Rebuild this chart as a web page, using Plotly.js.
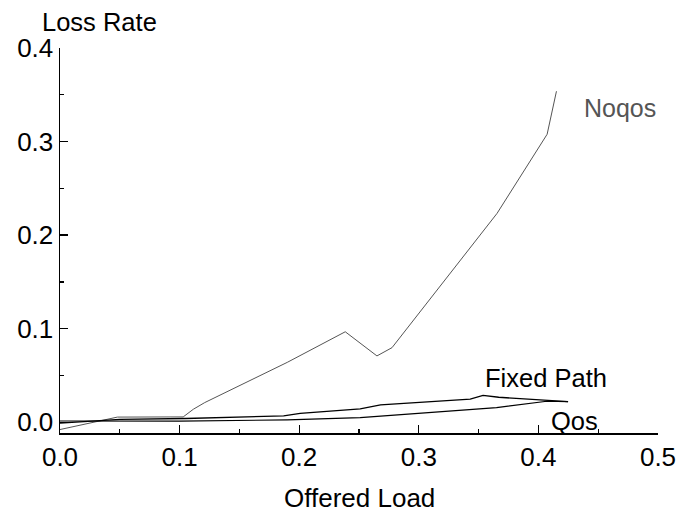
<!DOCTYPE html>
<html>
<head>
<meta charset="utf-8">
<script src="https://cdn.plot.ly/plotly-3.0.1.min.js"></script>
<style>html,body{margin:0;padding:0;background:#fff;}#chart{width:679px;height:515px;}</style>
</head>
<body>
<div id="chart"></div>
<script>
var noqosX = [0.0, 0.048, 0.103, 0.1115, 0.121, 0.19, 0.2385, 0.265, 0.2776, 0.3654, 0.4073, 0.4151];
var noqosY = [-0.0078, 0.0055, 0.0057, 0.0139, 0.021, 0.064, 0.0967, 0.0709, 0.0797, 0.2232, 0.3078, 0.3538];

var fixedX = [0.0, 0.05, 0.105, 0.187, 0.2008, 0.251, 0.268, 0.343, 0.3537, 0.3668, 0.4248];
var fixedY = [-0.0010, 0.0030, 0.0040, 0.0068, 0.0094, 0.0142, 0.0185, 0.0246, 0.0288, 0.0267, 0.0220];

var qosX = [0.0, 0.1, 0.19, 0.234, 0.251, 0.365, 0.407, 0.4248];
var qosY = [0.0014, 0.0012, 0.0025, 0.0038, 0.0049, 0.0156, 0.0225, 0.0220];

var seriesNames = ["Noqos", "Fixed Path", "Qos"];
var xTitle = "Offered Load";
var yTitle = "Loss Rate";

var font = "'Liberation Sans', Arial, Helvetica, sans-serif";

var traces = [
  {x: noqosX, y: noqosY, mode: "lines", name: seriesNames[0], line: {color: "#555555", width: 1}},
  {x: fixedX, y: fixedY, mode: "lines", name: seriesNames[1], line: {color: "#000000", width: 1.3}},
  {x: qosX, y: qosY, mode: "lines", name: seriesNames[2], line: {color: "#000000", width: 1.1}}
];

var layout = {
  width: 679, height: 515,
  margin: {l: 60, r: 21, t: 48, b: 82},
  paper_bgcolor: "#ffffff", plot_bgcolor: "#ffffff",
  showlegend: false,
  font: {family: font, size: 26, color: "#000"},
  xaxis: {
    range: [0, 0.5], dtick: 0.1, tick0: 0, tickformat: ".1f",
    showgrid: false, zeroline: false, showline: true, linecolor: "#000", linewidth: 1.5,
    ticks: "inside", ticklen: 8, tickwidth: 1.3, tickcolor: "#000",
    minor: {dtick: 0.05, ticks: "inside", ticklen: 4, tickwidth: 1.3, tickcolor: "#000", showgrid: false},
    tickfont: {family: font, size: 26, color: "#000"}
  },
  yaxis: {
    range: [-0.0115, 0.4], dtick: 0.1, tick0: 0, tickformat: ".1f",
    showgrid: false, zeroline: false, showline: true, linecolor: "#000", linewidth: 1.5,
    ticks: "inside", ticklen: 8, tickwidth: 1.3, tickcolor: "#000",
    minor: {dtick: 0.05, tick0: 0, ticks: "inside", ticklen: 4, tickwidth: 1.3, tickcolor: "#000", showgrid: false},
    tickfont: {family: font, size: 26, color: "#000"}
  },
  annotations: [
    {xref: "paper", yref: "paper", x: -0.034, y: 1.0, yshift: 26, xanchor: "left", yanchor: "middle", showarrow: false,
     text: yTitle, font: {family: font, size: 25.5, color: "#000"}},
    {xref: "paper", yref: "paper", x: 0.5, y: 0, yshift: -65, xanchor: "center", yanchor: "middle", showarrow: false,
     text: xTitle, font: {family: font, size: 26, color: "#000"}},
    {xref: "x", yref: "y", x: 0.468, y: 0.3356, xanchor: "center", yanchor: "middle", showarrow: false,
     text: seriesNames[0], font: {family: font, size: 25, color: "#555555"}},
    {xref: "x", yref: "y", x: 0.406, y: 0.0473, xanchor: "center", yanchor: "middle", showarrow: false,
     text: seriesNames[1], font: {family: font, size: 25.5, color: "#000"}},
    {xref: "x", yref: "y", x: 0.430, y: 0.0010, xanchor: "center", yanchor: "middle", showarrow: false,
     text: seriesNames[2], font: {family: font, size: 25.5, color: "#000"}}
  ]
};

Plotly.newPlot("chart", traces, layout, {staticPlot: true, displayModeBar: false});
</script>
</body>
</html>
